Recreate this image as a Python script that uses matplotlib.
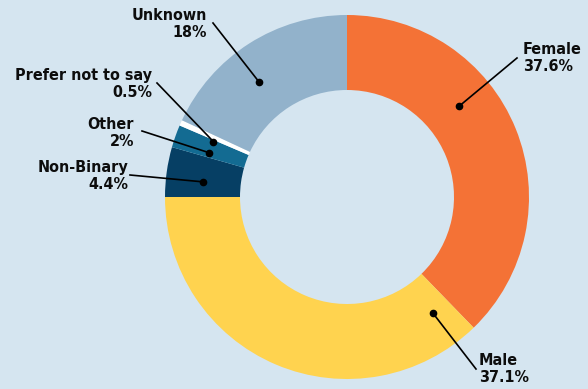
import numpy as np
import matplotlib
matplotlib.use("Agg")
import matplotlib.pyplot as plt

categories = ["Female", "Male", "Non-Binary", "Other", "Prefer not to say", "Unknown"]
shares = [37.6, 37.1, 4.4, 2, 0.5, 18]
colors = ["#f47236", "#ffd34f", "#063f64", "#136b92", "#ffffff", "#92b2cb"]

W, H = 588, 389
bg = "#d5e5f0"

# donut geometry in pixel space (y up)
cx, cy = 347, H - 197
r_out, r_in = 182, 107
r_mid = (r_out + r_in) / 2

# label layout: anchor angle on ring, leader end, text spot, alignment
anchor_deg = [39, -53.5, 174, 162.2, 157.5, 127.4]
leader_end = [(517, 58), (476, 369), (130, 175), (142, 131), (157, 83), (213, 23)]
text_pos = [(523, 58), (479, 369), (128, 176), (134, 133), (152, 84), (207, 24)]
text_ha = ["left", "left", "right", "right", "right", "right"]

fig = plt.figure(figsize=(W / 100, H / 100), dpi=100, facecolor=bg)
ax = fig.add_axes([0, 0, 1, 1])
ax.set_facecolor(bg)

ax.pie(shares, colors=colors, startangle=90, counterclock=False,
       center=(cx, cy), radius=r_out,
       wedgeprops=dict(width=r_out - r_in, edgecolor="none", linewidth=0))

for cat, val, ang, end, tp, ha in zip(categories, shares, anchor_deg,
                                       leader_end, text_pos, text_ha):
    a = np.deg2rad(ang)
    px, py = cx + r_mid * np.cos(a), cy + r_mid * np.sin(a)
    ex, ey = end[0], H - end[1]
    ax.plot([px, ex], [py, ey], color="black", lw=1.2, zorder=3)
    ax.plot(px, py, "o", color="black", ms=4.5, zorder=4)
    ax.text(tp[0], H - tp[1], f"{cat}\n{val:g}%", ha=ha, va="center",
            fontsize=11.5, fontweight="bold", fontstretch="condensed",
            family="DejaVu Sans", linespacing=1.15, color="#0d0d0d")

ax.set_xlim(0, W)
ax.set_ylim(0, H)
ax.axis("off")

fig.savefig("out.png", dpi=100, facecolor=bg)
